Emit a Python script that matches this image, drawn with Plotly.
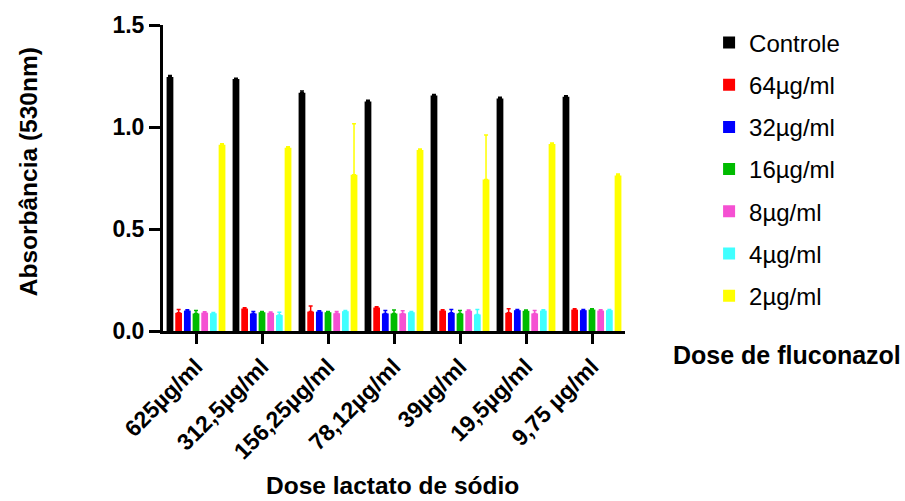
import plotly.graph_objects as go

categories = ["625µg/ml", "312,5µg/ml", "156,25µg/ml", "78,12µg/ml",
              "39µg/ml", "19,5µg/ml", "9,75 µg/ml"]

series_names = ["Controle", "64µg/ml", "32µg/ml", "16µg/ml", "8µg/ml", "4µg/ml", "2µg/ml"]
series_colors = ["#000000", "#FF0000", "#0000FF", "#00BB00", "#F550D2", "#40FFFF", "#FFFF00"]

controle = [1.245, 1.235, 1.168, 1.125, 1.154, 1.140, 1.148]
controle_err = [0.008, 0.004, 0.008, 0.006, 0.005, 0.006, 0.005]
d64 = [0.089, 0.110, 0.095, 0.115, 0.100, 0.089, 0.105]
d64_err = [0.017, 0.004, 0.028, 0.004, 0.004, 0.020, 0.004]
d32 = [0.100, 0.086, 0.095, 0.086, 0.089, 0.102, 0.102]
d32_err = [0.004, 0.009, 0.004, 0.014, 0.016, 0.004, 0.004]
d16 = [0.086, 0.092, 0.092, 0.086, 0.086, 0.099, 0.105]
d16_err = [0.014, 0.004, 0.004, 0.017, 0.014, 0.004, 0.004]
d8 = [0.090, 0.089, 0.087, 0.086, 0.099, 0.086, 0.100]
d8_err = [0.004, 0.004, 0.008, 0.013, 0.004, 0.014, 0.004]
d4 = [0.087, 0.078, 0.097, 0.092, 0.081, 0.100, 0.102]
d4_err = [0.004, 0.014, 0.004, 0.004, 0.024, 0.004, 0.004]
d2 = [0.913, 0.898, 0.766, 0.887, 0.743, 0.917, 0.762]
d2_err = [0.005, 0.005, 0.250, 0.005, 0.218, 0.005, 0.008]

series_values = [controle, d64, d32, d16, d8, d4, d2]
series_errors = [controle_err, d64_err, d32_err, d16_err, d8_err, d4_err, d2_err]

y_ticks = [0.0, 0.5, 1.0, 1.5]
y_tick_labels = ["0.0", "0.5", "1.0", "1.5"]

FONT = "Arial, Liberation Sans, sans-serif"

fig = go.Figure()
for i, (name, col, vals, errs) in enumerate(zip(series_names, series_colors, series_values, series_errors)):
    fig.add_trace(go.Bar(
        x=categories, y=vals, name=name, legendgroup=name,
        marker=dict(color=col, line=dict(width=0)),
        error_y=dict(type="data", array=errs, arrayminus=[0] * len(errs), symmetric=False,
                     color=col, thickness=1.5, width=2),
    ))

fig.update_layout(
    width=905, height=501,
    margin=dict(l=163, r=280, t=21, b=170),
    paper_bgcolor="white", plot_bgcolor="white",
    barmode="group", bargap=0.08, bargroupgap=0.22,
    font=dict(family=FONT, color="black"),
    showlegend=True,
    legend=dict(x=1.182, y=1.015, xanchor="left", yanchor="top",
                font=dict(family=FONT, size=24, color="black"),
                tracegroupgap=8, itemwidth=30, bgcolor="rgba(0,0,0,0)",
                maxheight=480),
    xaxis=dict(
        type="category", range=[-0.5, 6.5],
        showline=True, linecolor="black", linewidth=3,
        ticks="outside", ticklen=10, tickwidth=3, tickcolor="black",
        tickangle=-45,
        tickfont=dict(family=FONT, size=23, color="black", weight="bold"),
        showgrid=False, zeroline=False,
    ),
    yaxis=dict(
        range=[0, 1.5],
        tickvals=y_ticks, ticktext=y_tick_labels,
        showline=True, linecolor="black", linewidth=3,
        ticks="outside", ticklen=11, tickwidth=3, tickcolor="black",
        tickfont=dict(family=FONT, size=23, color="black", weight="bold"),
        showgrid=False, zeroline=False,
    ),
    annotations=[
        dict(text="Dose lactato de sódio", xref="paper", yref="paper", x=0.496, y=-0.506,
             xanchor="center", yanchor="middle", showarrow=False,
             font=dict(family=FONT, size=24.5, color="black", weight="bold")),
        dict(text="Absorbância (530nm)", xref="paper", yref="paper", x=-0.292, y=0.519,
             xanchor="center", yanchor="middle", showarrow=False, textangle=-90,
             font=dict(family=FONT, size=24.5, color="black", weight="bold")),
        dict(text="Dose de fluconazol", xref="paper", yref="paper", x=1.351, y=-0.079,
             xanchor="center", yanchor="middle", showarrow=False,
             font=dict(family=FONT, size=25, color="black", weight="bold")),
    ],
)

fig.write_html("out.html")
